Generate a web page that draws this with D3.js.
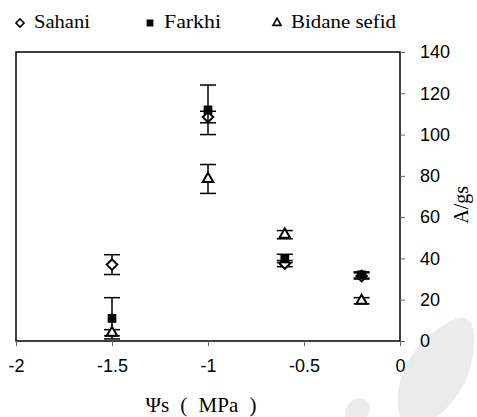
<!DOCTYPE html>
<html>
<head>
<meta charset="utf-8">
<script src="https://cdn.jsdelivr.net/npm/d3@7"></script>
<style>
  body { margin: 0; background: #fff; }
  svg { display: block; }
</style>
</head>
<body>
<div id="chart"></div>
<script>
// data
const psi = [-1.5, -1, -0.6, -0.2];
const sahani = [37, 108.5, 37.5, 31.5];
const sahaniErr = [4.8, 2.8, 1.5, 1.5];
const farkhi = [11, 112, 40, 32];
const farkhiErr = [10, 12, 2, 1.5];
const bidane = [4, 78.5, 51.5, 19.5];
const bidaneErr = [1.5, 7, 2, 1.5];
const xTicks = [-2, -1.5, -1, -0.5, 0];
const yTicks = [0, 20, 40, 60, 80, 100, 120, 140];

const width = 477;
const height = 417;
const margin = { top: 52, right: 77, bottom: 76, left: 16 };

const sansFont = "'Liberation Sans', Arial, sans-serif";
const serifFont = "'Liberation Serif', 'Times New Roman', serif";

const svg = d3.select('#chart')
              .append('svg')
              .attr('width', width)
              .attr('height', height);

// faint watermark in the corner
svg.append('path')
   .attr('d', 'M400,417 C388,372 425,330 458,318 C478,312 478,350 466,380 C456,400 444,412 436,417')
   .attr('fill', '#ebebeb');
svg.append('path')
   .attr('d', 'M345,417 C345,402 354,396 364,399 C372,402 370,412 367,417')
   .attr('fill', '#ebebeb');

const x = d3.scaleLinear().domain([-2, 0]).range([margin.left, width - margin.right]);
const y = d3.scaleLinear().domain([0, 140]).range([height - margin.bottom, margin.top]);

// frame
svg.append('rect')
   .attr('x', x(-2))
   .attr('y', y(140))
   .attr('width', x(0) - x(-2))
   .attr('height', y(0) - y(140))
   .attr('fill', 'none')
   .attr('stroke', '#000')
   .attr('stroke-width', 1.5);

const xAxis = svg.append('g')
   .attr('transform', 'translate(0,' + y(0) + ')')
   .call(d3.axisBottom(x).tickValues(xTicks).tickSize(5).tickFormat((d) => String(d)));
xAxis.select('.domain').remove();
xAxis.selectAll('line').attr('stroke', '#666');
xAxis.selectAll('text')
     .attr('dy', '1.3em')
     .style('font-family', sansFont)
     .style('font-size', '18px')
     .attr('fill', '#000');

const yAxis = svg.append('g')
   .attr('transform', 'translate(' + x(0) + ',0)')
   .call(d3.axisRight(y).tickValues(yTicks).tickSize(5).tickPadding(15));
yAxis.select('.domain').remove();
yAxis.selectAll('line').attr('stroke', '#666');
yAxis.selectAll('text')
     .style('font-family', sansFont)
     .style('font-size', '18px')
     .attr('fill', '#000');

// axis titles
svg.append('text')
   .attr('x', 201)
   .attr('y', 412)
   .attr('text-anchor', 'middle')
   .style('font-family', serifFont)
   .style('font-size', '21px')
   .style('word-spacing', '6px')
   .text('Ψs ( MPa )');

svg.append('text')
   .attr('transform', 'translate(468,' + y(66) + ') rotate(-90)')
   .attr('text-anchor', 'middle')
   .style('font-family', serifFont)
   .style('font-size', '20px')
   .text('A/gs');

const series = [
  { name: 'Sahani', len: 56, values: sahani, errs: sahaniErr, symbol: d3.symbolDiamond2, size: 70, fill: 'none' },
  { name: 'Farkhi', len: 57, values: farkhi, errs: farkhiErr, symbol: d3.symbolSquare, size: 45, fill: '#000' },
  { name: 'Bidane sefid', len: 105, values: bidane, errs: bidaneErr, symbol: d3.symbolTriangle2, size: 80, fill: 'none' }
];

const capW = 8;

series.forEach((s) => {
  const pts = psi.map((p, i) => ({ x: p, v: s.values[i], e: s.errs[i] }));
  const g = svg.append('g');

  const bars = g.selectAll('.err')
                .data(pts)
                .enter()
                .append('g')
                .attr('stroke', '#000')
                .attr('stroke-width', 1.5);
  bars.append('line')
      .attr('x1', (d) => x(d.x)).attr('x2', (d) => x(d.x))
      .attr('y1', (d) => y(d.v - d.e)).attr('y2', (d) => y(d.v + d.e));
  bars.append('line')
      .attr('x1', (d) => x(d.x) - capW).attr('x2', (d) => x(d.x) + capW)
      .attr('y1', (d) => y(d.v + d.e)).attr('y2', (d) => y(d.v + d.e));
  bars.append('line')
      .attr('x1', (d) => x(d.x) - capW).attr('x2', (d) => x(d.x) + capW)
      .attr('y1', (d) => y(d.v - d.e)).attr('y2', (d) => y(d.v - d.e));

  g.selectAll('.pt')
   .data(pts)
   .enter()
   .append('path')
   .attr('d', d3.symbol().type(s.symbol).size(s.size))
   .attr('transform', (d) => 'translate(' + x(d.x) + ',' + y(d.v) + ')')
   .attr('fill', s.fill === 'none' ? '#fff' : s.fill)
   .attr('stroke', '#000')
   .attr('stroke-width', 2);
});

// legend
const legendX = [20, 150, 277];
const legend = svg.selectAll('.legend')
                  .data(series)
                  .enter()
                  .append('g')
                  .attr('transform', (d, i) => 'translate(' + legendX[i] + ',23)');
legend.append('path')
      .attr('d', (d) => d3.symbol().type(d.symbol).size(d.size * 0.6)())
      .attr('fill', (d) => d.fill === 'none' ? '#fff' : d.fill)
      .attr('stroke', '#000')
      .attr('stroke-width', 1.6);
legend.append('text')
      .attr('x', 14)
      .attr('y', 5)
      .attr('textLength', (d) => d.len)
      .attr('lengthAdjust', 'spacingAndGlyphs')
      .style('font-family', serifFont)
      .style('font-size', '18px')
      .text((d) => d.name);
</script>
</body>
</html>
